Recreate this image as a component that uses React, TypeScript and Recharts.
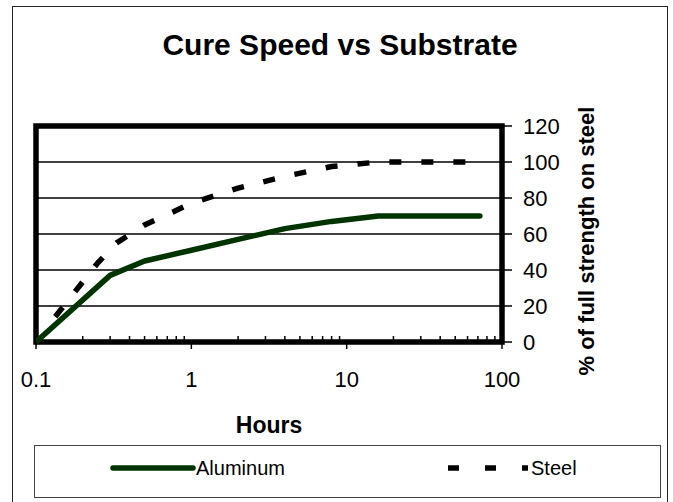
import React from 'react';
import { LineChart, Line, XAxis, YAxis, CartesianGrid, ReferenceArea, Legend, Label } from 'recharts';

const FONT = '"Liberation Sans", Arial, Helvetica, sans-serif';

// ---- data ----
const aluminumHours = [0.1, 0.3, 0.5, 1, 2, 4, 8, 16, 24, 72];
const aluminumStrength = [0, 37, 45, 51, 57, 63, 67, 70, 70, 70];
const steelHours = [0.133, 0.25, 0.33, 0.5, 1, 2, 4, 8, 16, 24, 72];
const steelStrength = [14, 44, 55, 65, 77, 85.5, 92, 97.5, 100, 100, 100];
const xMajorTicks = [0.1, 1, 10, 100];
const xTickLabels = ['0.1', '1', '10', '100'];
const xMinorTicks = [0.2, 0.3, 0.4, 0.5, 0.6, 0.7, 0.8, 0.9, 2, 3, 4, 5, 6, 7, 8, 9, 20, 30, 40, 50, 60, 70, 80, 90];
const yTicks = [0, 20, 40, 60, 80, 100, 120];
const seriesNames = ['Aluminum', 'Steel'];
const titleText = 'Cure Speed vs Substrate';
const xTitle = 'Hours';
const yTitle = '% of full strength on steel';

const aluminumData = aluminumHours.map((h, i) => ({ h, v: aluminumStrength[i] }));
const steelData = steelHours.map((h, i) => ({ h, v: steelStrength[i] }));
const allXTicks = [...xMajorTicks, ...xMinorTicks].sort((a, b) => a - b);

const GREEN = '#003300';

const XTick = (props: any) => {
  const { x, y, payload } = props;
  const v = payload.value;
  const mi = xMajorTicks.indexOf(v);
  if (mi >= 0) {
    return (
      <g>
        <line x1={x} y1={y} x2={x} y2={y + 7} stroke="#000" strokeWidth={1.5} />
        <text x={x} y={y + 45} textAnchor="middle" fontSize={22} fontFamily={FONT} fill="#000">
          {xTickLabels[mi]}
        </text>
      </g>
    );
  }
  return <line x1={x} y1={y} x2={x} y2={y - 6} stroke="#000" strokeWidth={1.5} />;
};

const YTitle = (props: any) => {
  const vb = props.viewBox || { x: 502, y: 126, width: 120, height: 216 };
  const cx = vb.x + 92;
  const cy = vb.y + vb.height / 2 + 7;
  return (
    <text
      x={cx}
      y={cy}
      transform={`rotate(-90 ${cx} ${cy})`}
      textAnchor="middle"
      fontSize={22}
      fontWeight="bold"
      fontFamily={FONT}
      fill="#000"
    >
      {yTitle}
    </text>
  );
};

const legendSampleX = [79, 414];

const LegendBox = (props: any) => {
  const payload = props.payload || [];
  return (
    <svg width={627} height={53} style={{ display: 'block' }}>
      <rect x={0.5} y={0.5} width={626} height={52} fill="#fff" stroke="#444" strokeWidth={1} />
      {payload.map((p: any, i: number) => {
        const sx = legendSampleX[i];
        const dashed = i === 1;
        return (
          <g key={i}>
            <line
              x1={sx}
              y1={23}
              x2={sx + 80}
              y2={23}
              stroke={p.color}
              strokeWidth={5.5}
              strokeLinecap={dashed ? 'butt' : 'round'}
              strokeDasharray={dashed ? '11 26' : undefined}
            />
            <text x={sx + 83} y={30} fontSize={20} fontFamily={FONT} fill="#000">
              {p.value}
            </text>
          </g>
        );
      })}
    </svg>
  );
};

export default function App() {
  return (
    <div
      style={{
        position: 'absolute',
        left: 0,
        top: 0,
        width: 673,
        height: 502,
        overflow: 'hidden',
        background: '#fff',
        fontFamily: FONT,
      }}
    >
      <div
        style={{
          position: 'absolute',
          left: 12,
          top: 6,
          width: 656,
          height: 520,
          boxSizing: 'border-box',
          border: '1.5px solid #222',
        }}
      />
      <div
        style={{
          position: 'absolute',
          left: 12,
          width: 656,
          top: 30,
          textAlign: 'center',
          fontSize: 30,
          lineHeight: '30px',
          fontWeight: 'bold',
          color: '#000',
        }}
      >
        {titleText}
      </div>
      <div style={{ position: 'absolute', left: 0, top: 0 }}>
        <LineChart width={673} height={502} margin={{ top: 126, left: 36, right: 51, bottom: 60 }}>
          <CartesianGrid vertical={false} stroke="#000" strokeWidth={1.5} />
          <XAxis
            dataKey="h"
            type="number"
            scale="log"
            domain={[0.1, 100]}
            allowDataOverflow
            ticks={allXTicks}
            interval={0}
            tick={<XTick />}
            tickLine={false}
            axisLine={false}
            tickSize={0}
            tickMargin={0}
            height={100}
          >
            <Label
              value={xTitle}
              position="insideTop"
              offset={75}
              style={{ fontSize: 23, fontWeight: 'bold', fontFamily: FONT, fill: '#000' }}
            />
          </XAxis>
          <YAxis
            orientation="right"
            type="number"
            domain={[0, 120]}
            ticks={yTicks}
            interval={0}
            width={120}
            axisLine={false}
            tickSize={10}
            tickMargin={11}
            tickLine={{ stroke: '#000', strokeWidth: 1.5 }}
            tick={{ fontSize: 22, fill: '#000', fontFamily: FONT }}
          >
            <Label content={<YTitle />} />
          </YAxis>
          <Line
            data={aluminumData}
            dataKey="v"
            name={seriesNames[0]}
            type="linear"
            stroke={GREEN}
            strokeWidth={5.5}
            strokeLinecap="round"
            strokeLinejoin="round"
            dot={false}
            activeDot={false}
            isAnimationActive={false}
          />
          <Line
            data={steelData}
            dataKey="v"
            name={seriesNames[1]}
            type="linear"
            stroke="#000"
            strokeWidth={5.5}
            strokeDasharray="12 20"
            dot={false}
            activeDot={false}
            isAnimationActive={false}
          />
          <ReferenceArea
            x1={0.1}
            x2={100}
            y1={0}
            y2={120}
            fill="none"
            fillOpacity={0}
            stroke="#000"
            strokeWidth={5.5}
            ifOverflow="visible"
          />
          <Legend
            layout="horizontal"
            verticalAlign="middle"
            align="center"
            content={<LegendBox />}
            wrapperStyle={{ position: 'absolute', left: 34, top: 445, width: 627, height: 53 }}
          />
        </LineChart>
      </div>
    </div>
  );
}
